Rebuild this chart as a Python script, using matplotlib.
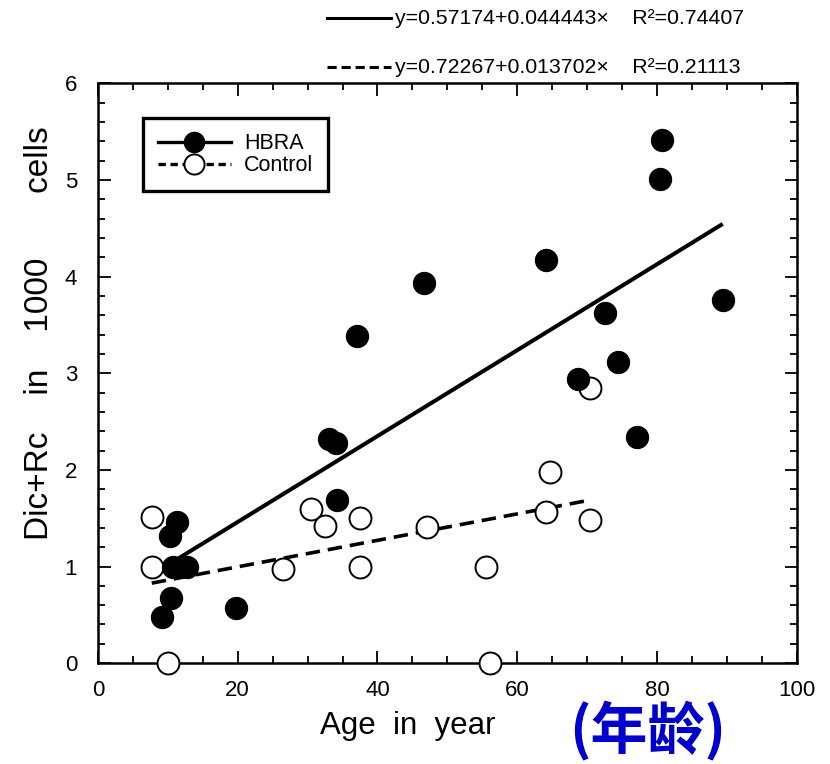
"""Dic+Rc counts vs age, HBRA against control, with linear fits."""

import matplotlib
matplotlib.use("Agg")
import matplotlib.pyplot as plt
from matplotlib.lines import Line2D
from matplotlib.ticker import MultipleLocator
import numpy as np

plt.rcParams["font.family"] = ["Liberation Sans", "DejaVu Sans"]

# HBRA group (filled)
hbra_age = [9.2, 10.4, 10.7, 12.7, 11.3, 10.3, 19.7, 33.0, 34.0, 34.2, 37.1,
            46.6, 64.1, 72.5, 74.4, 68.7, 77.1, 80.4, 80.7, 89.4]
hbra_val = [0.48, 0.67, 0.99, 0.99, 1.46, 1.32, 0.57, 2.32, 2.28, 1.69, 3.38,
            3.93, 4.17, 3.62, 3.12, 2.94, 2.34, 5.01, 5.41, 3.76]

# control group (open)
ctrl_age = [7.7, 7.7, 10.0, 26.5, 30.5, 32.5, 37.5, 37.5, 47.1, 55.5, 56.1,
            64.1, 64.7, 70.4, 70.4]
ctrl_val = [1.51, 0.99, 0.0, 0.97, 1.60, 1.42, 1.50, 0.99, 1.41, 1.00, 0.0,
            1.56, 1.98, 2.85, 1.48]

# fitted lines: intercept, slope, r^2
hbra_fit = (0.57174, 0.044443, 0.74407)
ctrl_fit = (0.72267, 0.013702, 0.21113)

fig = plt.figure(figsize=(8.3, 7.64), dpi=100)
ax = fig.add_axes([0.118, 0.132, 0.842, 0.759])

xs = np.array([min(hbra_age), max(hbra_age)])
ax.plot(xs, hbra_fit[0] + hbra_fit[1] * xs, color="black", lw=2.9,
        solid_capstyle="butt", zorder=2)
xc = np.array([min(ctrl_age), max(ctrl_age)])
ax.plot(xc, ctrl_fit[0] + ctrl_fit[1] * xc, color="black", lw=2.6,
        dashes=(4, 2.2), zorder=2)

ax.plot(hbra_age, hbra_val, "o", ms=15.8, mfc="black", mec="black",
        clip_on=False, zorder=4)
ax.plot(ctrl_age, ctrl_val, "o", ms=15.8, mfc="white", mec="black", mew=1.4,
        clip_on=False, zorder=3)

ax.set_xlim(0, 100)
ax.set_ylim(0, 6)
ax.xaxis.set_major_locator(MultipleLocator(20))
ax.xaxis.set_minor_locator(MultipleLocator(5))
ax.yaxis.set_major_locator(MultipleLocator(1))
ax.yaxis.set_minor_locator(MultipleLocator(0.2))
ax.tick_params(which="both", direction="in", top=True, right=True,
               labelsize=16, width=1.3)
ax.tick_params(axis="x", which="major", pad=12)
ax.tick_params(axis="y", which="major", pad=15)
ax.tick_params(which="major", length=9)
ax.tick_params(which="minor", length=5)
for s in ax.spines.values():
    s.set_linewidth(1.8)

ax.set_xlabel("Age  in  year", fontsize=22.5, labelpad=7, x=0.444)
ax.set_ylabel("Dic+Rc    in    1000       cells", fontsize=24, labelpad=7,
              y=0.569)
fig.text(0.78, 0.003, "(年龄)", color="#0000cc", fontsize=41,
         fontweight="bold", ha="center", va="bottom",
         family=["Noto Sans CJK SC", "DejaVu Sans"])

handles = [
    Line2D([], [], color="black", lw=2.4, marker="o", ms=14.5, mfc="black"),
    Line2D([], [], color="black", lw=2.4, dashes=(2.2, 1.4), marker="o",
           ms=14.5, mfc="white", mew=1.4),
]
leg = ax.legend(handles, ["HBRA", "Control"], loc="upper left",
                bbox_to_anchor=(0.064, 0.940), borderaxespad=0, fontsize=15.5,
                handlelength=3.4, handletextpad=0.6, labelspacing=0.05,
                borderpad=0.7, fancybox=False, framealpha=1,
                edgecolor="black")
leg.get_frame().set_linewidth(2.4)

# equations above the frame
for y, fit, style in [(0.976, hbra_fit, "-"), (0.912, ctrl_fit, "--")]:
    kw = {"dashes": (3, 1.6)} if style == "--" else {}
    fig.add_artist(Line2D([0.394, 0.471], [y, y], color="black", lw=2.2,
                          transform=fig.transFigure, **kw))
    fig.text(0.476, y, f"y={fit[0]:.5f}+{fit[1]:.6f}\u00d7    R\u00b2={fit[2]:.5f}",
             fontsize=15.3, va="center", ha="left")

fig.savefig("out.png", dpi=100)
